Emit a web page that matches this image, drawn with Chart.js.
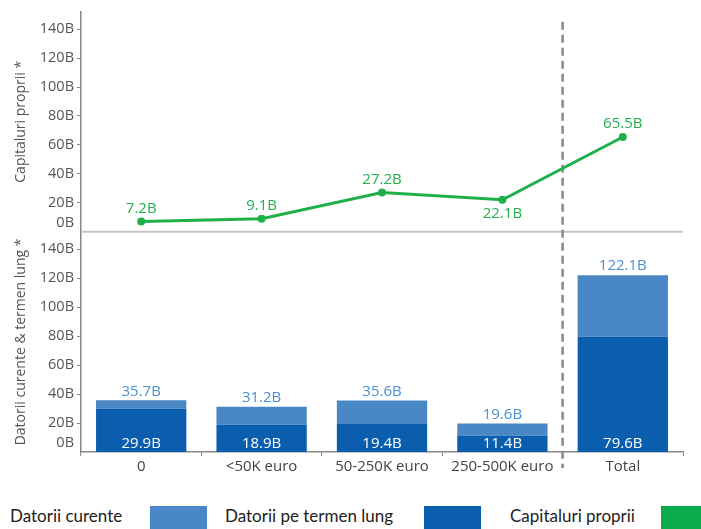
<!DOCTYPE html>
<html>
<head>
<meta charset="utf-8">
<script src="https://cdn.jsdelivr.net/npm/chart.js@4.4.0/dist/chart.umd.min.js"></script>
<style>
    html, body { margin: 0; padding: 0; background: #fff; }
    #wrap { position: relative; width: 701px; height: 529px; overflow: hidden; }
    #chart { position: absolute; left: 0; top: 0; }
    .lg { position: absolute; top: 504px; font-family: Lato, sans-serif; font-size: 17px; color: #222; line-height: 24px; white-space: nowrap; }
    .sw { position: absolute; top: 506px; width: 57px; height: 23px; }
</style>
</head>
<body>
<div id="wrap">
    <canvas id="chart" width="701" height="490"></canvas>
    <span class="lg" style="left:10px">Datorii curente</span>
    <div class="sw" style="left:150px;background:#4a87c6"></div>
    <span class="lg" style="left:225px">Datorii pe termen lung</span>
    <div class="sw" style="left:424px;background:#0b5eae"></div>
    <span class="lg" style="left:510px">Capitaluri proprii</span>
    <div class="sw" style="left:661px;background:#0aab4a"></div>
</div>
<script>
var categories = ['0', '<50K euro', '50-250K euro', '250-500K euro', 'Total'];
var capitaluriProprii = [7.2, 9.1, 27.2, 22.1, 65.5];
var datoriiTermenLung = [29.9, 18.9, 19.4, 11.4, 79.6];
var datoriiCurente = [5.8, 12.3, 16.2, 8.2, 42.5];
var yTicks = [0, 20, 40, 60, 80, 100, 120, 140];

// the "0B" label sits a little above the baseline in the original
var zeroLift = 6.5;

var yTickFont = { family: 'Open Sans', size: 14.5 };
var xTickFont = { family: 'Open Sans', size: 15 };
var titleFont = { family: 'Open Sans', size: 14 };
var labelFont = '15px "Open Sans"';

function fmt(v) {
    return v.toFixed(1) + 'B';
}

function yAxis(title) {
    return {
        type: 'linear',
        position: 'left',
        stack: 'panels',
        stackWeight: 1,
        min: 0,
        max: 152,
        afterBuildTicks: function (axis) {
            axis.ticks = yTicks.map(function (v) { return { value: v === 0 ? zeroLift : v }; });
        },
        afterFit: function (scale) { scale.width = 81; },
        ticks: {
            font: yTickFont,
            color: '#555',
            padding: 3,
            autoSkip: false,
            callback: function (v) { return (v === zeroLift ? 0 : v) + 'B'; }
        },
        grid: {
            drawOnChartArea: false,
            tickLength: 4,
            tickColor: function (ctx) {
                return ctx.tick && ctx.tick.value === zeroLift ? 'rgba(0,0,0,0)' : '#888';
            }
        },
        border: { color: '#888', width: 1.5 },
        title: {
            display: true,
            text: title,
            font: titleFont,
            color: '#555',
            padding: { top: 13, bottom: 0 }
        }
    };
}

var decorPlugin = {
    id: 'decor',
    beforeDatasetsDraw: function (chart) {
        var ctx = chart.ctx;
        var area = chart.chartArea;
        var x = chart.scales.x;
        var yTop = chart.scales.yTop;
        ctx.save();
        // panel separator
        var ySep = yTop.getPixelForValue(0);
        ctx.strokeStyle = '#c6c6c6';
        ctx.lineWidth = 2;
        ctx.beginPath();
        ctx.moveTo(area.left, ySep);
        ctx.lineTo(area.right, ySep);
        ctx.stroke();
        // dashed divider before Total
        var xd = (x.getPixelForValue(3) + x.getPixelForValue(4)) / 2;
        ctx.strokeStyle = '#8a8a8a';
        ctx.lineWidth = 2.5;
        ctx.setLineDash([8, 5]);
        ctx.beginPath();
        ctx.moveTo(xd, area.top + 10);
        ctx.lineTo(xd, area.bottom + 16);
        ctx.stroke();
        ctx.restore();
    },
    afterDatasetsDraw: function (chart) {
        var ctx = chart.ctx;
        var yBot = chart.scales.yBot;
        var lungMeta = chart.getDatasetMeta(0);
        var curMeta = chart.getDatasetMeta(1);
        var lineMeta = chart.getDatasetMeta(2);
        ctx.save();
        ctx.font = labelFont;
        ctx.textAlign = 'center';
        ctx.textBaseline = 'middle';
        for (var i = 0; i < categories.length; i++) {
            var total = datoriiTermenLung[i] + datoriiCurente[i];
            ctx.fillStyle = '#4b8ed2';
            ctx.fillText(fmt(total), curMeta.data[i].x, curMeta.data[i].y - 9);
            ctx.fillStyle = '#ffffff';
            ctx.fillText(fmt(datoriiTermenLung[i]), lungMeta.data[i].x, yBot.getPixelForValue(0) - 8);

            var pt = lineMeta.data[i];
            var below = i > 0 && capitaluriProprii[i] < capitaluriProprii[i - 1];
            ctx.fillStyle = '#22b04e';
            ctx.fillText(fmt(capitaluriProprii[i]), pt.x, below ? pt.y + 14 : pt.y - 13);
        }
        ctx.restore();
    }
};

new Chart(document.getElementById('chart'), {
    type: 'bar',
    data: {
        labels: categories,
        datasets: [{
            label: 'Datorii pe termen lung',
            data: datoriiTermenLung,
            backgroundColor: '#0b5eae',
            yAxisID: 'yBot',
            barPercentage: 0.75,
            categoryPercentage: 1
        }, {
            label: 'Datorii curente',
            data: datoriiCurente,
            backgroundColor: '#4a87c6',
            yAxisID: 'yBot',
            barPercentage: 0.75,
            categoryPercentage: 1
        }, {
            type: 'line',
            label: 'Capitaluri proprii',
            data: capitaluriProprii,
            borderColor: '#1fb04a',
            backgroundColor: '#1fb04a',
            borderWidth: 3,
            pointRadius: 2.5,
            tension: 0,
            yAxisID: 'yTop'
        }]
    },
    options: {
        responsive: false,
        animation: false,
        layout: { padding: { top: 10, right: 18, left: 0, bottom: 0 } },
        plugins: {
            legend: { display: false },
            tooltip: { enabled: false }
        },
        scales: {
            x: {
                stacked: true,
                offset: true,
                afterFit: function (scale) { scale.height = 38; },
                grid: { drawOnChartArea: false, offset: true, tickLength: 4, tickColor: '#888' },
                border: { color: '#888', width: 1.5 },
                ticks: { font: xTickFont, color: '#444', padding: 2, maxRotation: 0 }
            },
            yBot: Object.assign(yAxis('Datorii curente & termen lung *'), { stacked: true }),
            yTop: yAxis('Capitaluri proprii *')
        }
    },
    plugins: [decorPlugin]
});
</script>
</body>
</html>
